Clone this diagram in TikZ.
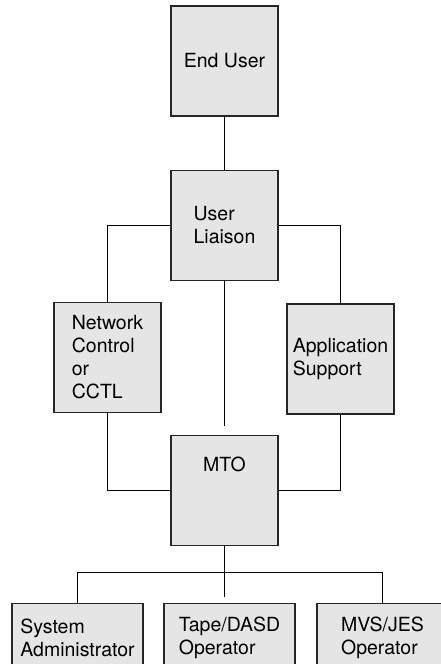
\documentclass[tikz,border=0pt]{standalone}
\usepackage{fontspec}
\setmainfont{TeX Gyre Heros}

\begin{document}
\begin{tikzpicture}[x=1pt,y=1pt,
    box/.style={draw=black!85, fill=black!10, line width=1.1pt,
      minimum width=107pt, minimum height=110pt, inner sep=2pt,
      align=left, font=\fontsize{19.5}{23}\selectfont},
    wide/.style={box, minimum width=131pt, minimum height=68pt, anchor=north},
    link/.style={line width=1.1pt}]
  \useasboundingbox (0,0) rectangle (441,-664);
  \clip (0,0) rectangle (441,-664);

  % upper part
  \node[box] (enduser) at (224.5,-61) {End User};
  \node[box] (liaison) at (224.5,-225.5) {User\\Liaison};
  \node[box] (netctl) at (107.5,-357.5) {Network\\Control\\or\\CCTL};
  \node[box] (appsup) at (340.5,-359) {Application\\Support};
  \node[box, text depth=53pt] (mto) at (224.5,-490.5) {MTO};

  % operators
  \foreach \x/\n/\t in {77.5/sysadm/{System\\Administrator},
                        229.5/tape/{Tape/DASD\\Operator},
                        382.5/mvs/{MVS/JES\\Operator}}{
    \node[wide] (\n) at (\x,-603) {\t};
  }

  \draw[link] (enduser) -- (liaison);
  \draw[link] (liaison.west) -| (netctl.north);
  \draw[link] (liaison.east) -| (appsup.north);
  \draw[link, shorten >=9pt] (liaison) -- (mto);
  \draw[link] (netctl.south) |- (mto.west);
  \draw[link] (appsup.south) |- (mto.east);
  \draw[link] (mto.south) -- ++(0,-26) coordinate (bus);
  \draw[link] (bus) -| (sysadm.north);
  \draw[link] (bus) -| (mvs.north);
  \draw[link, shorten >=6pt] (bus) -- (bus |- tape.north);
\end{tikzpicture}
\end{document}
